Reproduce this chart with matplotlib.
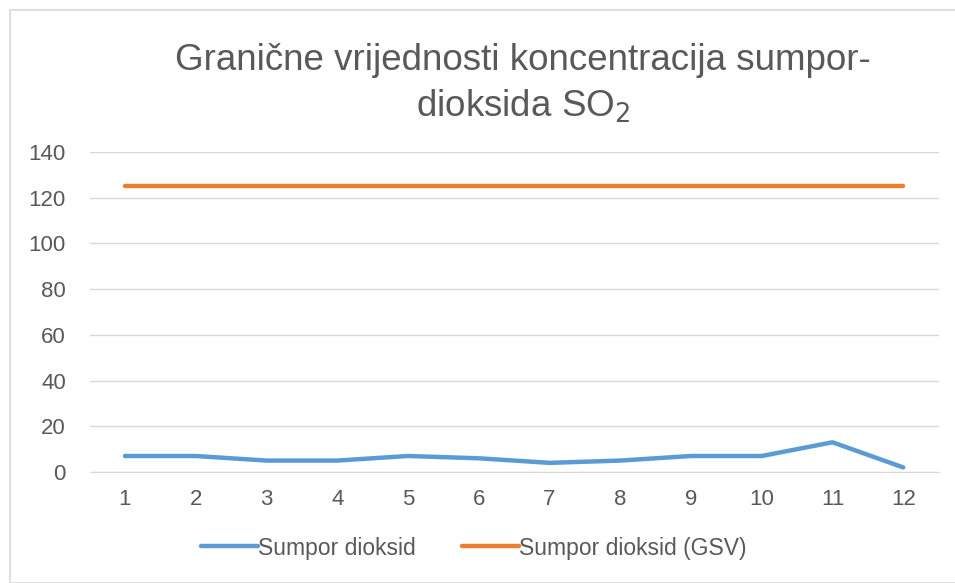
import matplotlib
matplotlib.use("Agg")
import matplotlib.pyplot as plt
from matplotlib.patches import Rectangle

categories = [1, 2, 3, 4, 5, 6, 7, 8, 9, 10, 11, 12]
so2 = [7, 7, 5, 5, 7, 6, 4, 5, 7, 7, 13, 2]
so2_gsv = [125, 125, 125, 125, 125, 125, 125, 125, 125, 125, 125, 125]
yticks = [0, 20, 40, 60, 80, 100, 120, 140]

plt.rcParams['font.family'] = ['Liberation Sans', 'DejaVu Sans']

W, H = 955, 583
fig = plt.figure(figsize=(W/100, H/100), dpi=100)
fig.patch.set_facecolor('white')
fig.patches.append(Rectangle((10/W, 0), 1, 1 - 10/H, transform=fig.transFigure,
                             fill=False, edgecolor='#d9d9d9', linewidth=1.2))

left, right = 89.6, 938.6
top, bottom = 152, 472
ax = fig.add_axes([left/W, 1 - bottom/H, (right-left)/W, (bottom-top)/H])
x = list(range(len(categories)))
ax.plot(x, so2, color='#5b9bd5', linewidth=3.2, solid_capstyle='round', label='Sumpor dioksid')
ax.plot(x, so2_gsv, color='#ed7d31', linewidth=3.2, solid_capstyle='round', label='Sumpor dioksid (GSV)')
ax.set_xlim(-0.5, len(categories) - 0.5)
ax.set_ylim(0, 140)
ax.set_yticks(yticks)
ax.set_xticks(x)
ax.set_xticklabels([str(c) for c in categories])
ax.grid(axis='y', color='#d9d9d9', linewidth=1)
ax.set_axisbelow(True)
for s in ['top', 'right', 'left']:
    ax.spines[s].set_visible(False)
ax.spines['bottom'].set_color('#d9d9d9')
ax.tick_params(axis='both', length=0, labelsize=16, colors='#595959')
ax.tick_params(axis='x', pad=12)
ax.tick_params(axis='y', pad=17)

fig.text(0.548, 1 - 60/H, 'Granične vrijednosti koncentracija sumpor-', ha='center', va='center',
         fontsize=26.5, color='#595959')
fig.text(0.548, 1 - 106/H, r'dioksida SO$_2$', ha='center', va='center',
         fontsize=26.5, color='#595959')

leg = fig.legend(loc='center', bbox_to_anchor=(474/W, 1 - 548/H), ncol=2, frameon=False,
                 fontsize=16.5, handlelength=2.5, handletextpad=0.0, columnspacing=2.0)
for t in leg.get_texts():
    t.set_color('#595959')

fig.savefig('out.png', dpi=100)
